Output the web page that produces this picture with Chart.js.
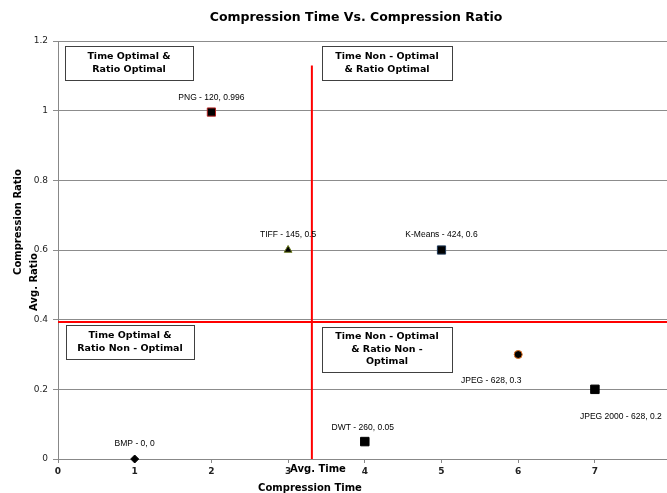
<!DOCTYPE html>
<html><head><meta charset="utf-8">
<script src="https://cdn.jsdelivr.net/npm/chart.js@4/dist/chart.umd.min.js"></script>
<style>html,body{margin:0;padding:0;background:#fff;}canvas{display:block;}</style>
</head><body>
<canvas id="c" width="667" height="493"></canvas>
<script>
// ---- data ----
const names = ['BMP', 'PNG', 'TIFF', 'DWT', 'K-Means', 'JPEG', 'JPEG 2000'];
const timeRank = [1, 2, 3, 4, 5, 6, 7];
const ratios = [0, 0.996, 0.6, 0.05, 0.6, 0.3, 0.2];
const pointLabels = ['BMP - 0, 0', 'PNG - 120, 0.996', 'TIFF - 145, 0.5', 'DWT - 260, 0.05', 'K-Means - 424, 0.6', 'JPEG - 628, 0.3', 'JPEG 2000 - 628, 0.2'];
const avgTime = 3.31;
const avgRatio = 0.393;
const avgTimeLineTop = 1.13;
const xTicks = [0, 1, 2, 3, 4, 5, 6, 7];
const yTicks = [0, 0.2, 0.4, 0.6, 0.8, 1, 1.2];
const quadrantTexts = [
  ['Time Optimal &', 'Ratio Optimal'],
  ['Time Non - Optimal', '& Ratio Optimal'],
  ['Time Optimal &', 'Ratio Non - Optimal'],
  ['Time Non - Optimal', '& Ratio Non -', 'Optimal']
];

// ---- styles ----
const markerStyles = [
  {style: 'rectRot', r: 4, fill: '#000', border: '#000'},
  {style: 'rect', r: 5.8, fill: '#000', border: '#b22222'},
  {style: 'triangle', r: 4.5, fill: '#000', border: '#6b7a1e'},
  {style: 'rect', r: 6, fill: '#000', border: '#000'},
  {style: 'rect', r: 5.8, fill: '#000', border: '#1f3a5a'},
  {style: 'circle', r: 4, fill: '#000', border: '#e07020'},
  {style: 'rect', r: 6, fill: '#000', border: '#000'}
];
const labelOffsets = [[0,-15],[0,-14],[0,-15],[-2,-14],[0,-15],[-27,26],[26,27]];
const boxes = [
  {x: 65, y: 46, w: 128, h: 34},
  {x: 322, y: 46, w: 130, h: 34},
  {x: 66, y: 325, w: 128, h: 34},
  {x: 322, y: 327, w: 130, h: 45}
];

const datasets = names.map((n, i) => ({
  type: 'scatter',
  label: n,
  data: [{x: timeRank[i], y: ratios[i]}],
  pointStyle: markerStyles[i].style,
  pointRadius: markerStyles[i].r,
  pointBackgroundColor: markerStyles[i].fill,
  pointBorderColor: markerStyles[i].border,
  pointBorderWidth: 1,
  clip: false
}));
datasets.push({
  type: 'line', label: 'Avg. Time',
  data: [{x: avgTime, y: 0}, {x: avgTime, y: avgTimeLineTop}],
  borderColor: '#ff0000', borderWidth: 2, pointRadius: 0, fill: false
});
datasets.push({
  type: 'line', label: 'Avg. Ratio',
  data: [{x: 0, y: avgRatio}, {x: 7.94, y: avgRatio}],
  borderColor: '#ff0000', borderWidth: 2, pointRadius: 0, fill: false
});

const overlay = {
  id: 'overlay',
  afterDraw(chart) {
    const ctx = chart.ctx;
    ctx.save();
    ctx.fillStyle = '#000';
    ctx.textAlign = 'center';
    ctx.textBaseline = 'middle';
    // title
    ctx.font = 'bold 12.5px "DejaVu Sans"';
    ctx.fillText('Compression Time Vs. Compression Ratio', 356, 18);
    // axis titles
    ctx.font = 'bold 10px "DejaVu Sans"';
    ctx.fillText('Compression Time', 310, 488);
    ctx.fillText('Avg. Time', 318, 469);
    ctx.save();
    ctx.translate(18, 222);
    ctx.rotate(-Math.PI / 2);
    ctx.fillText('Compression Ratio', 0, 0);
    ctx.restore();
    ctx.save();
    ctx.translate(34, 282);
    ctx.rotate(-Math.PI / 2);
    ctx.fillText('Avg. Ratio', 0, 0);
    ctx.restore();
    // quadrant boxes
    boxes.forEach((b, i) => {
      ctx.fillStyle = '#fff';
      ctx.fillRect(b.x, b.y, b.w, b.h);
      ctx.strokeStyle = '#404040';
      ctx.lineWidth = 1;
      ctx.strokeRect(b.x + 0.5, b.y + 0.5, b.w, b.h);
      ctx.fillStyle = '#000';
      ctx.font = 'bold 9.5px "DejaVu Sans"';
      const lines = quadrantTexts[i];
      const lh = 12.5;
      const cy = b.y + b.h / 2 - (lines.length - 1) * lh / 2;
      lines.forEach((t, k) => ctx.fillText(t, b.x + b.w / 2, cy + k * lh));
    });
    // point labels
    ctx.font = '8.5px "Liberation Sans"';
    ctx.fillStyle = '#000';
    names.forEach((n, i) => {
      const el = chart.getDatasetMeta(i).data[0];
      ctx.fillText(pointLabels[i], el.x + labelOffsets[i][0], el.y + labelOffsets[i][1]);
    });
    ctx.restore();
  }
};

new Chart(document.getElementById('c'), {
  data: {datasets},
  options: {
    responsive: false,
    animation: false,
    layout: {autoPadding: false, padding: {top: 41, left: 0, right: 0, bottom: 0}},
    plugins: {legend: {display: false}, tooltip: {enabled: false}, title: {display: false}},
    scales: {
      x: {
        type: 'linear', min: 0, max: 7.94,
        afterBuildTicks(s) { s.ticks = xTicks.map(v => ({value: v})); },
        afterFit(s) { s.height = 34; s.paddingRight = 0; s.paddingLeft = 0; },
        grid: {drawOnChartArea: false, drawTicks: true, tickLength: 4, color: '#888'},
        border: {color: '#888', width: 1},
        ticks: {font: {family: 'DejaVu Sans', size: 9, weight: 'bold'}, color: '#222', padding: 3, maxRotation: 0}
      },
      y: {
        type: 'linear', min: 0, max: 1.2,
        afterBuildTicks(s) { s.ticks = yTicks.map(v => ({value: v})); },
        afterFit(s) { s.width = 58; s.paddingTop = 0; s.paddingBottom = 0; },
        grid: {color: '#8c8c8c', tickLength: 5},
        border: {color: '#888', width: 1},
        ticks: {
          font: {family: 'DejaVu Sans', size: 9}, color: '#222', padding: 5,
          callback: v => String(Math.round(v * 10) / 10)
        }
      }
    }
  },
  plugins: [overlay]
});
</script>
</body></html>
